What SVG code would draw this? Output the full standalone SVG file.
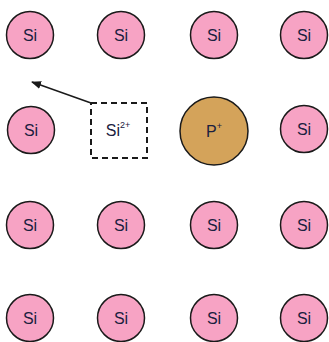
<svg xmlns="http://www.w3.org/2000/svg" width="329" height="342" viewBox="0 0 329 342">
<style>
.si{fill:#f7a3c4;stroke:#1a1a1a;stroke-width:1.5}
.p{fill:#d4a35a;stroke:#1a1a1a;stroke-width:1.5}
text{font-family:"Liberation Sans",Arial,sans-serif;font-size:16px;fill:#1a2040;text-anchor:middle;dominant-baseline:central}
.sup{font-size:9px}
</style>
<defs>
<marker id="ah" markerWidth="10" markerHeight="8" refX="9" refY="4" orient="auto" markerUnits="userSpaceOnUse">
<path d="M0,0 L10,4 L0,8 z" fill="#1a1a1a"/>
</marker>
</defs>
<rect width="329" height="342" fill="#fff"/>
<g id="connectors">
<line x1="91" y1="103" x2="32" y2="82" stroke="#1a1a1a" stroke-width="1.5" marker-end="url(#ah)"/>
</g>
<g id="si-1-1"><circle class="si" cx="30" cy="35" r="23.5"/><text x="30" y="35">Si</text></g>
<g id="si-1-2"><circle class="si" cx="121" cy="35" r="23.5"/><text x="121" y="35">Si</text></g>
<g id="si-1-3"><circle class="si" cx="214" cy="35" r="23.5"/><text x="214" y="35">Si</text></g>
<g id="si-1-4"><circle class="si" cx="304" cy="35" r="23.5"/><text x="304" y="35">Si</text></g>
<g id="si-2-1"><circle class="si" cx="31" cy="130" r="23.5"/><text x="31" y="130">Si</text></g>
<g id="vacancy"><rect x="91" y="103" width="56" height="55" fill="none" stroke="#1a1a1a" stroke-width="2" stroke-dasharray="6,4"/><text x="118" y="130">Si<tspan class="sup" dy="-5">2+</tspan></text></g>
<g id="p-ion"><circle class="p" cx="214" cy="131" r="34"/><text x="214" y="131">P<tspan class="sup" dy="-5">+</tspan></text></g>
<g id="si-2-4"><circle class="si" cx="304" cy="129" r="23.5"/><text x="304" y="129">Si</text></g>
<g id="si-3-1"><circle class="si" cx="30" cy="225" r="23.5"/><text x="30" y="225">Si</text></g>
<g id="si-3-2"><circle class="si" cx="121" cy="225" r="23.5"/><text x="121" y="225">Si</text></g>
<g id="si-3-3"><circle class="si" cx="214" cy="225" r="23.5"/><text x="214" y="225">Si</text></g>
<g id="si-3-4"><circle class="si" cx="304" cy="225" r="23.5"/><text x="304" y="225">Si</text></g>
<g id="si-4-1"><circle class="si" cx="30" cy="318" r="23.5"/><text x="30" y="318">Si</text></g>
<g id="si-4-2"><circle class="si" cx="121" cy="318" r="23.5"/><text x="121" y="318">Si</text></g>
<g id="si-4-3"><circle class="si" cx="214" cy="318" r="23.5"/><text x="214" y="318">Si</text></g>
<g id="si-4-4"><circle class="si" cx="304" cy="318" r="23.5"/><text x="304" y="318">Si</text></g>
</svg>
